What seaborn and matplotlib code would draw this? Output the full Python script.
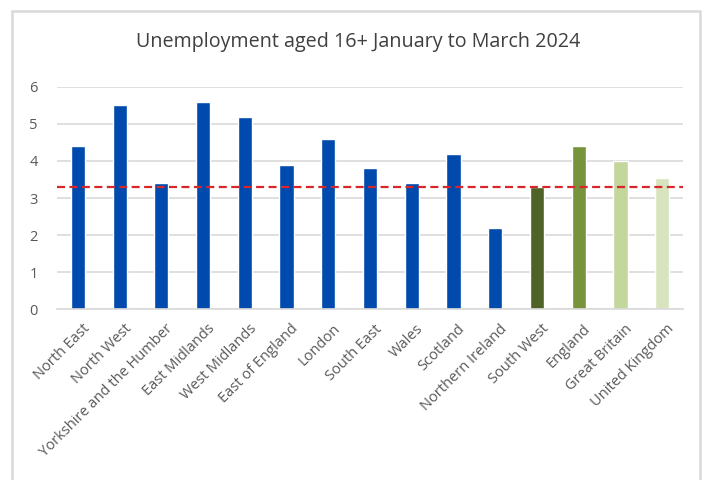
import matplotlib
matplotlib.use("Agg")
import matplotlib.pyplot as plt
import matplotlib.transforms as mtransforms
from matplotlib.patches import Rectangle
import seaborn as sns
import pandas as pd

regions = [
    "North East", "North West", "Yorkshire and the Humber", "East Midlands",
    "West Midlands", "East of England", "London", "South East", "Wales",
    "Scotland", "Northern Ireland", "South West", "England", "Great Britain",
    "United Kingdom",
]
rates = [4.4, 5.5, 3.4, 5.6, 5.2, 3.9, 4.6, 3.8, 3.4, 4.2, 2.2, 3.3, 4.4, 4.0, 3.55]
bar_colors = ["#004AAD"] * 11 + ["#4F6228", "#77933C", "#C3D69B", "#D7E4BD"]
reference_rate = 3.3
title = "Unemployment aged 16+ January to March 2024"

sns.set_theme(style="white")
plt.rcParams["font.family"] = ["Open Sans", "DejaVu Sans"]

df = pd.DataFrame({"region": regions, "rate": rates})

fig = plt.figure(figsize=(7.09, 4.8), dpi=100)
ax = fig.add_axes([0.0804, 0.356, 0.883, 0.463])

sns.barplot(data=df, x="region", y="rate", hue="region", palette=bar_colors,
            width=0.34, legend=False, saturation=1, ax=ax)

ax.axhline(reference_rate, color="#D9262B", lw=1.6, ls=(0, (3.6, 2.0)), zorder=3)

ax.set_ylim(0, 6)
ax.set_xlim(-0.5, len(regions) - 0.5)
ax.set_yticks(range(0, 7))
ax.yaxis.grid(True, color="#D9D9D9", lw=1.2)
ax.set_axisbelow(True)
for side in ["top", "right", "left"]:
    ax.spines[side].set_visible(False)
ax.spines["bottom"].set_color("#D9D9D9")
ax.spines["bottom"].set_linewidth(1.2)
ax.set_xlabel("")
ax.set_ylabel("")
ax.tick_params(axis="y", length=0, pad=14, labelsize=10.5, labelcolor="#595959")
ax.tick_params(axis="x", length=0, pad=9, labelsize=10.5, labelcolor="#595959")

offset = mtransforms.ScaledTranslation(3 / 72, 0, fig.dpi_scale_trans)
for lab in ax.get_xticklabels():
    lab.set_rotation(45)
    lab.set_ha("right")
    lab.set_va("top")
    lab.set_rotation_mode("anchor")
    lab.set_transform(lab.get_transform() + offset)

fig.text(0.505, 0.912, title, ha="center", va="center", fontsize=14.2,
         color="#404040")

# light frame around the chart area
fig.add_artist(Rectangle((11.5 / 709, -0.05), (700 - 11.5) / 709, 1.05 - 11 / 480,
                         transform=fig.transFigure, fill=False,
                         edgecolor="#D9D9D9", lw=1.8))

fig.savefig("out.png", dpi=100, facecolor="white")
